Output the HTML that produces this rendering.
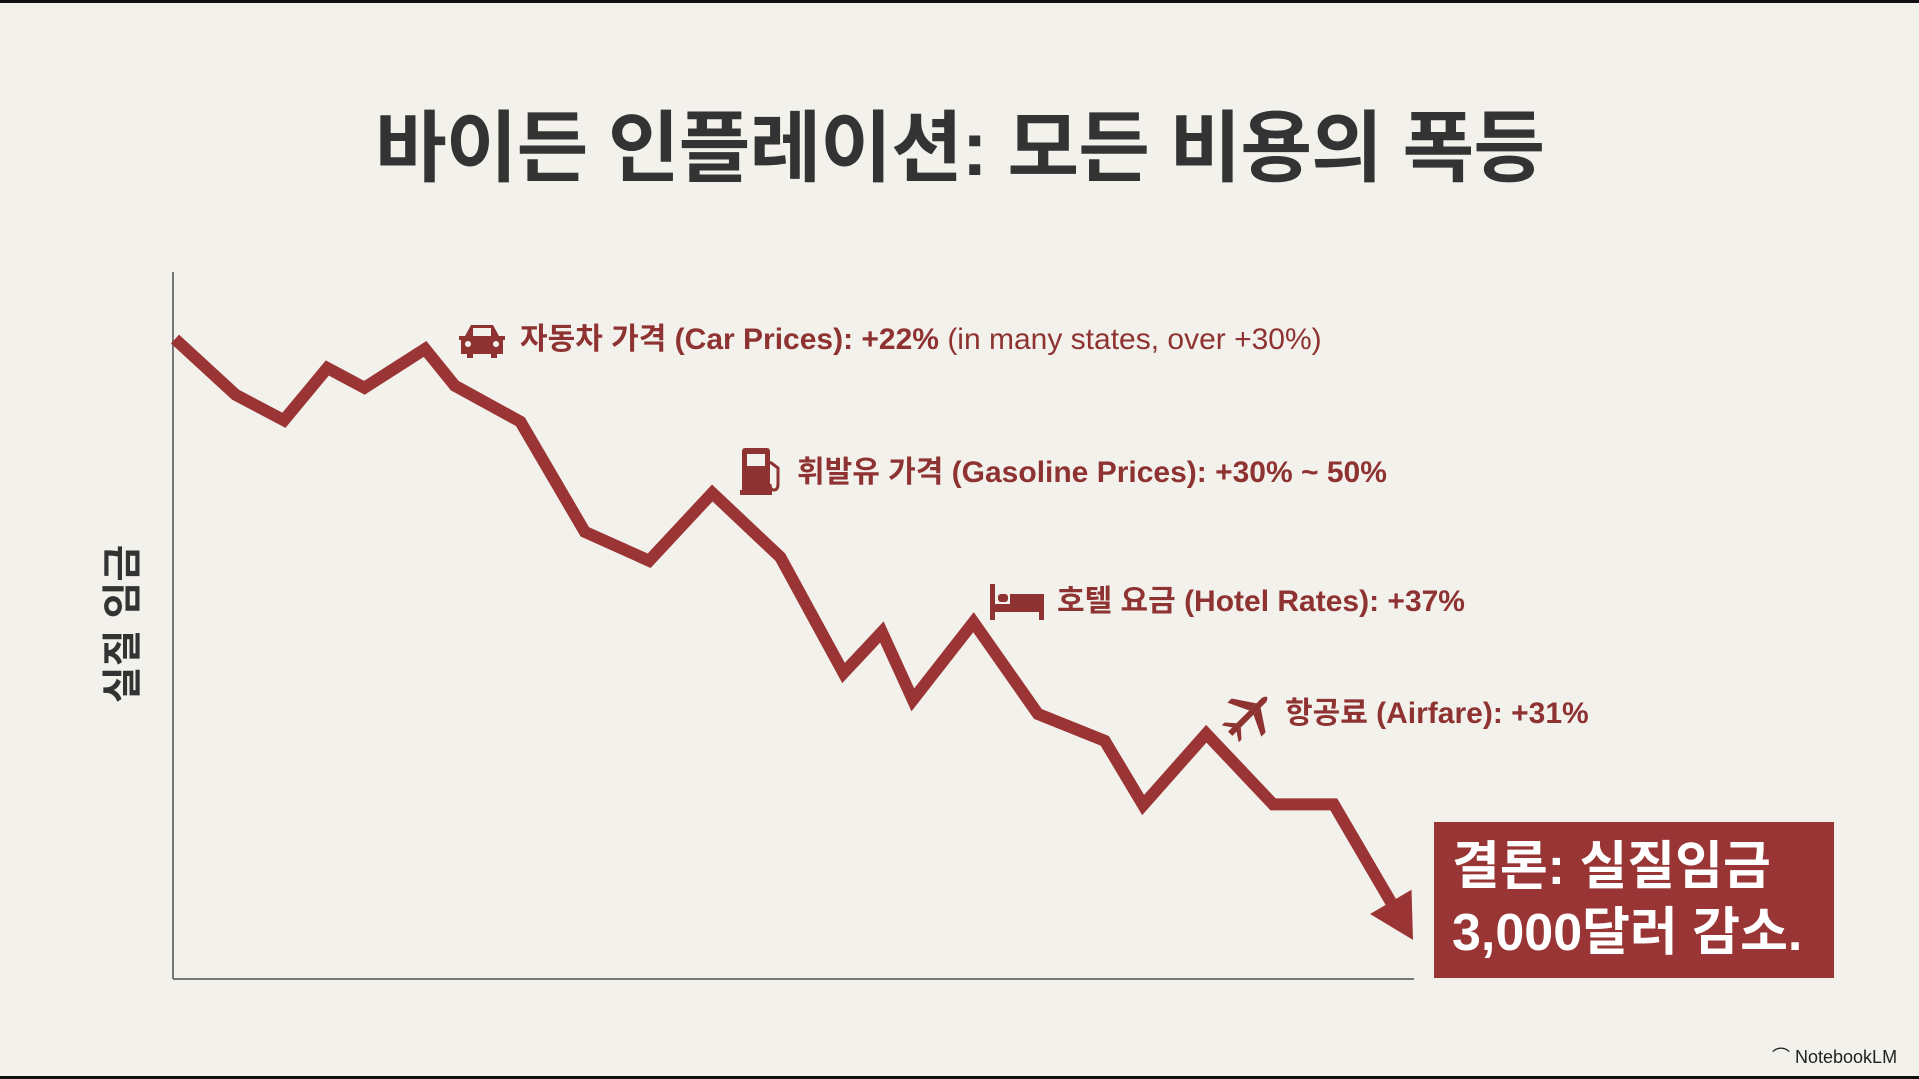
<!DOCTYPE html>
<html><head><meta charset="utf-8"><style>
html,body{margin:0;padding:0}
body{width:1919px;height:1079px;background:#f3f1ec;position:relative;overflow:hidden;font-family:"Liberation Sans","Noto Sans CJK KR",sans-serif}
.bar{position:absolute;left:0;width:1919px;background:#111}
.title{position:absolute;left:0;width:1919px;top:86px;text-align:center;font-size:78px;font-weight:bold;color:#333;letter-spacing:-1px}
.ann{position:absolute;font-size:30px;font-weight:bold;color:#8e3232;white-space:nowrap;line-height:36px}
.ann span{font-weight:normal}
.box{position:absolute;left:1434px;top:822px;width:400px;height:156px;background:#993535;color:#fff;font-size:52px;font-weight:bold;line-height:66px;padding:12px 0 0 18px;box-sizing:border-box}
.ylab{position:absolute;left:119px;top:624px;transform:translate(-50%,-50%) rotate(-90deg);font-size:40px;font-weight:bold;color:#333;white-space:nowrap}
.logo{position:absolute;left:1772px;top:1043px;font-size:18px;color:#222}
</style></head><body>
<div class="bar" style="top:0;height:3px"></div>
<div class="bar" style="top:1076px;height:3px"></div>
<div class="title">바이든 인플레이션: 모든 비용의 폭등</div>
<div class="ylab">실질 임금</div>
<svg id="chart" width="1919" height="1079" style="position:absolute;left:0;top:0">
<line x1="173" y1="272" x2="173" y2="979" stroke="#777" stroke-width="2"/>
<line x1="173" y1="979" x2="1414" y2="979" stroke="#777" stroke-width="2"/>
<g fill="#8e3232" transform="translate(457,322)">
<path d="M8 14 L14 3 H36 L42 14 H48 V18 H46 V32 H40 V36 H34 V32 H16 V36 H10 V32 H4 V18 H2 V14 Z"/>
<rect x="16" y="6" width="18" height="8" fill="#f3f1ec"/>
<circle cx="11" cy="22" r="3" fill="#f3f1ec"/><circle cx="39" cy="22" r="3" fill="#f3f1ec"/>
</g>
<g fill="#8e3232" transform="translate(740,448)">
<rect x="2" y="0" width="28" height="44" rx="3"/><rect x="0" y="42" width="32" height="5"/>
<rect x="7" y="6" width="18" height="12" fill="#f3f1ec"/>
<path d="M30 14 L38 20 V36 Q38 42 34 42 Q30 42 30 36" fill="none" stroke="#8e3232" stroke-width="3"/>
</g>
<g fill="#8e3232" transform="translate(990,584)">
<rect x="0" y="0" width="5" height="36"/><rect x="0" y="20" width="54" height="8"/>
<rect x="8" y="10" width="10" height="8" rx="3"/><rect x="20" y="10" width="34" height="10"/>
<rect x="49" y="26" width="5" height="10"/>
</g>
<g fill="#8e3232" transform="translate(1250,714) rotate(-45)">
<path d="M-28 -3 L20 -3 Q28 0 20 3 L-28 3 Z"/>
<path d="M2 -3 L-8 -24 L-2 -24 L12 -3 Z"/><path d="M2 3 L-8 24 L-2 24 L12 3 Z"/>
<path d="M-22 -3 L-28 -12 L-24 -12 L-16 -3 Z"/><path d="M-22 3 L-28 12 L-24 12 L-16 3 Z"/>
</g>
</svg>
<div class="ann" style="left:520px;top:322px">자동차 가격 (Car Prices): +22% <span>(in many states, over +30%)</span></div>
<div class="ann" style="left:797px;top:455px">휘발유 가격 (Gasoline Prices): +30% ~ 50%</div>
<div class="ann" style="left:1057px;top:584px">호텔 요금 (Hotel Rates): +37%</div>
<div class="ann" style="left:1285px;top:696px">항공료 (Airfare): +31%</div>
<div class="box">결론: 실질임금<br>3,000달러 감소.</div>
<div class="logo">⌒ NotebookLM</div>
<script>
const timePoints = [0,4.9,8.8,12.3,15.3,20.2,22.6,27.9,33.1,38.3,43.4,48.9,54,57.1,59.6,64.5,69.7,75.1,78.2,83.3,88.7,93.6,100];
const realWage = [90.5,82.6,79.0,86.4,83.6,89.1,83.9,78.8,63.2,59.1,68.7,59.6,43.2,49.0,39.4,50.4,37.4,33.6,24.5,34.6,24.6,24.6,5.4];
const xScale = t => 175 + t * (1413 - 175) / 100;
const yScale = v => 978 - v * (978 - 272) / 100;
const svg = document.getElementById('chart');
const NS = 'http://www.w3.org/2000/svg';
const pts = timePoints.map((t, i) => [xScale(t), yScale(realWage[i])]);
const n = pts.length;
const [tx, ty] = pts[n - 1], [px, py] = pts[n - 2];
const dx = tx - px, dy = ty - py, L = Math.hypot(dx, dy), ux = dx / L, uy = dy / L;
const head = 44, hw = 24;
const bx = tx - ux * head, by = ty - uy * head;
const linePts = pts.slice(0, n - 1).concat([[bx + ux * 4, by + uy * 4]]);
const poly = document.createElementNS(NS, 'polyline');
poly.setAttribute('points', linePts.map(p => p.join(',')).join(' '));
poly.setAttribute('fill', 'none');
poly.setAttribute('stroke', '#9b3535');
poly.setAttribute('stroke-width', '12');
poly.setAttribute('stroke-linejoin', 'miter');


svg.appendChild(poly);
const arrow = document.createElementNS(NS, 'polygon');
arrow.setAttribute('points', `${tx},${ty} ${bx - uy * hw},${by + ux * hw} ${bx + uy * hw},${by - ux * hw}`);
arrow.setAttribute('fill', '#9b3535');


svg.appendChild(arrow);
</script>
</body></html>
